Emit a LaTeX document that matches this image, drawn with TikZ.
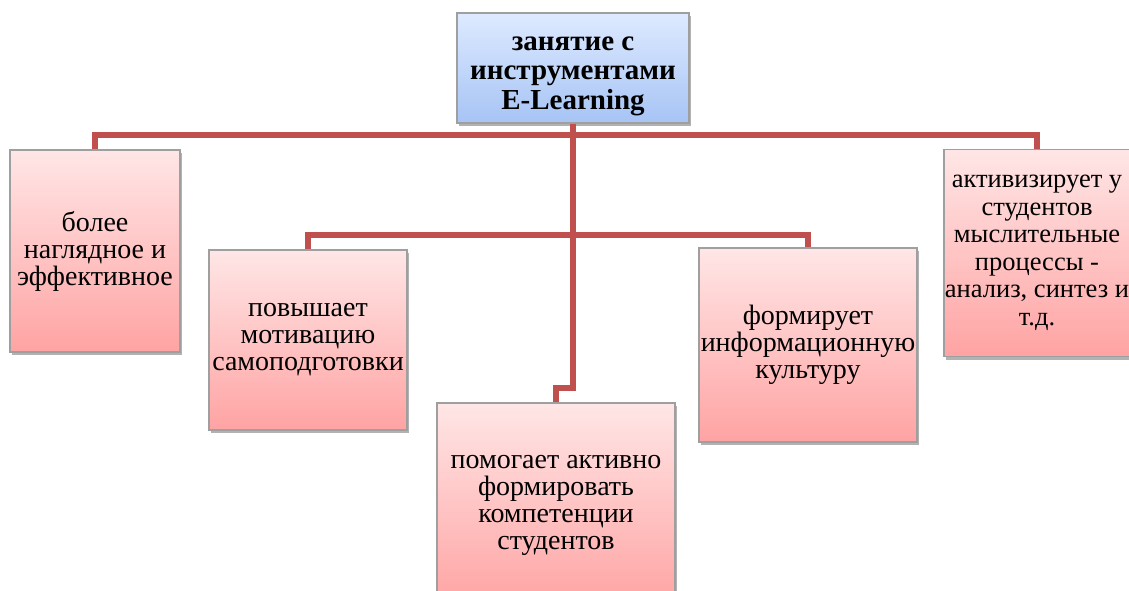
\documentclass[tikz,border=0pt]{standalone}
\usepackage{fontspec}
\setmainfont{Liberation Serif}
\usetikzlibrary{shadows}

\definecolor{linkred}{RGB}{192,80,77}
\definecolor{pinktop}{RGB}{255,230,230}
\definecolor{pinkbot}{RGB}{255,163,163}
\definecolor{bluetop}{RGB}{222,234,255}
\definecolor{bluebot}{RGB}{166,196,245}

\tikzset{
  box/.style={draw=gray!75, line width=1.2pt, top color=pinktop, bottom color=pinkbot,
    align=center, inner sep=0pt, font=\fontsize{28}{27}\selectfont,
    drop shadow={shadow xshift=2pt, shadow yshift=-3pt, fill=black, opacity=0.3}},
  topbox/.style={box, top color=bluetop, bottom color=bluebot,
    font=\bfseries\fontsize{29}{29.5}\selectfont},
  link/.style={draw=linkred, line width=6pt}
}

\begin{document}
\begin{tikzpicture}[x=1pt, y=-1pt]
    \useasboundingbox (0,0) rectangle (1129,591);
    \clip (0,0) rectangle (1129,591);
    % boxes
    \node[topbox, minimum width=232, minimum height=110] (top) at (573,68)
      {\rule{0pt}{30pt}занятие с\\инструментами\\E-Learning};
    \node[box, minimum width=170, minimum height=202] (visual) at (95,251)
      {более\\наглядное и\\эффективное};
    \node[box, minimum width=198, minimum height=180] (motiv) at (308,340)
      {повышает\\мотивацию\\самоподготовки};
    \node[box, minimum width=238, minimum height=204] (compet) at (556,505)
      {помогает активно\\формировать\\компетенции\\студентов};
    \node[box, minimum width=218, minimum height=194] (culture) at (808,345)
      {формирует\\информационную\\культуру};
    \node[box, minimum width=186, minimum height=207, font=\fontsize{26.5}{27.5}\selectfont]
      (think) at (1037,253)
      {активизирует у\\студентов\\мыслительные\\процессы -\\анализ, синтез и\\т.д.};
    % connectors
    \coordinate (bar1) at (573,135);
    \coordinate (bar2) at (573,235);
    \coordinate (jog) at (573,388);
    \draw[link] (visual.north) |- (bar1) -| (think.north);
    \draw[link] (motiv.north) |- (bar2) -| (culture.north);
    \draw[link] (top.south) -- (jog) -| (compet.north);
\end{tikzpicture}
\end{document}
